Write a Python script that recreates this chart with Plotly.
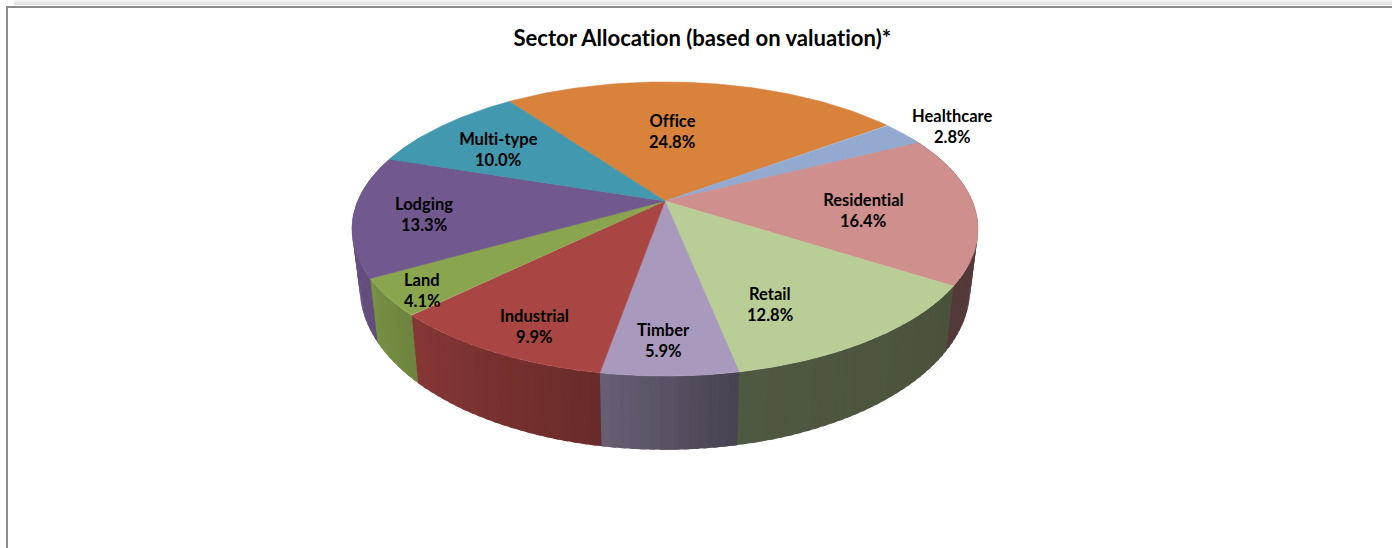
import numpy as np
import plotly.graph_objects as go

# ---- data (clockwise from Office) ----
sectors = ["Office", "Healthcare", "Residential", "Retail", "Timber",
           "Industrial", "Land", "Lodging", "Multi-type"]
shares = [24.8, 2.8, 16.4, 12.8, 5.9, 9.9, 4.1, 13.3, 10.0]
title_text = "Sector Allocation (based on valuation)*"

# ---- styles ----
top_colors = ["#D9823C", "#93A9CF", "#CF8F8D", "#B9CD96", "#A99ABD",
              "#A94543", "#89A54E", "#71588F", "#4198AF"]
START_DEG = -35.8          # where Office begins, clockwise from 12 o'clock
CX, CY = 665, 201          # projected centre of the top face
A, B, K = 307.3, 141.7, 0.1905  # projection of the tilted disc
A2, B2, Y2 = 299.6, 155.8, 257.3  # projection of the lower rim
# wall brightness by angle
SHADE_DEG = [60, 123, 169, 190, 226, 241, 270, 300]
SHADE_VAL = [.40, .40, .43, .62, .80, .88, .90, .90]
label_pos = {
    "Office": (672, 120.5), "Healthcare": (952, 115.5), "Residential": (863, 199.5),
    "Retail": (770, 293.5), "Timber": (663, 329.5), "Industrial": (534, 315.5),
    "Land": (422, 279.5), "Lodging": (424, 203.5), "Multi-type": (498, 138.5),
}
LINE_GAP = 21.5
FONT = "Lato"
LABEL_SIZE = 16.5
TITLE_SIZE = 22.1


def top_xy(deg):
    t = np.radians(deg)
    X, Y = np.sin(t), np.cos(t)
    d = 1 + K * Y
    return CX + A * X / d, CY - B * Y / d


def rim_xy(deg):
    t = np.radians(deg)
    X, Y = np.sin(t), np.cos(t)
    d = 1 + K * Y
    return CX + A2 * X / d, Y2 - B2 * Y / d


def rgb(hexcol, f=1.0):
    h = hexcol.lstrip("#")
    r, g, b = (int(h[i:i + 2], 16) for i in (0, 2, 4))
    return f"rgb({r * f:.0f},{g * f:.0f},{b * f:.0f})"


total = sum(shares)
edges = START_DEG + np.concatenate([[0], np.cumsum(shares)]) * 360 / total

fig = go.Figure()


def poly(xs, ys, color, width=0.0, name=None):
    fig.add_trace(go.Scatter(x=list(xs), y=list(ys), mode="lines", fill="toself",
                             fillcolor=color, line=dict(color=color, width=width),
                             hoverinfo="skip", showlegend=False, name=name))


# side walls, strips painted from the far ends towards the front;
# each strip runs a little under the next one so no seams show
strips = []
for i, _ in enumerate(sectors):
    a0, a1 = edges[i], edges[i + 1]
    n = max(int((a1 - a0) / 1.5), 1)
    stops = np.linspace(a0, a1, n + 1)
    for s0, s1 in zip(stops[:-1], stops[1:]):
        mid = ((s0 + s1) / 2) % 360
        if 60 < mid < 300:
            strips.append((i, s0, s1, mid))
strips.sort(key=lambda r: -abs(r[3] - 180))
for i, s0, s1, mid in strips:
    f = float(np.interp(mid, SHADE_DEG, SHADE_VAL))
    a = np.linspace(s0, s1, 3)
    if mid < 180:
        a[-1] += 0.8
    else:
        a[0] -= 0.8
    tx, ty = top_xy(a)
    bx, by = rim_xy(a[::-1])
    poly(np.r_[tx, bx], np.r_[ty, by], rgb(top_colors[i], f))

# top face
for i, name in enumerate(sectors):
    a = np.linspace(edges[i], edges[i + 1], 80)
    x, y = top_xy(a)
    poly(np.r_[CX, x, CX], np.r_[CY, y, CY], top_colors[i], 0.6, name)

# labels
ann = [dict(x=702, y=37.5, text=f"<b>{title_text}</b>", showarrow=False, xanchor="center",
            yanchor="middle", font=dict(family=FONT, size=TITLE_SIZE, color="#000"))]
for name, v in zip(sectors, shares):
    x, y = label_pos[name]
    for k, txt in enumerate((name, f"{v:.1f}%")):
        ann.append(dict(x=x, y=y + k * LINE_GAP, text=f"<b>{txt}</b>", showarrow=False,
                        xanchor="center", yanchor="middle",
                        font=dict(family=FONT, size=LABEL_SIZE, color="#000")))

# panel frame
shapes = []
for yy, c in [(0.5, "#f4f4f4"), (1.5, "#efefef"), (2.5, "#ebebeb"), (3.5, "#e6e6e6"), (4.5, "#e0e0e0")]:
    shapes.append(dict(type="line", x0=14, x1=1392, y0=yy, y1=yy, line=dict(color=c, width=1), layer="below"))
shapes += [
    dict(type="line", x0=7, x1=1392, y0=7, y1=7, line=dict(color="#8c8c8c", width=2), layer="below"),
    dict(type="line", x0=7, x1=7, y0=6, y1=548, line=dict(color="#8c8c8c", width=2), layer="below"),
]

fig.update_layout(
    width=1392, height=548, margin=dict(l=0, r=0, t=0, b=0),
    paper_bgcolor="white", plot_bgcolor="white", showlegend=False,
    xaxis=dict(range=[0, 1392], visible=False, fixedrange=True),
    yaxis=dict(range=[548, 0], visible=False, fixedrange=True),
    annotations=ann, shapes=shapes,
)
fig.write_html(
    "out.html", config=dict(displayModeBar=False),
    post_script=("document.body.style.margin='0';document.body.style.overflow='hidden';"
                 "var s=document.createElement('style');"
                 "s.textContent='text{font-variant-ligatures:none;font-feature-settings:\"liga\" 0;}';"
                 "document.head.appendChild(s);"))
